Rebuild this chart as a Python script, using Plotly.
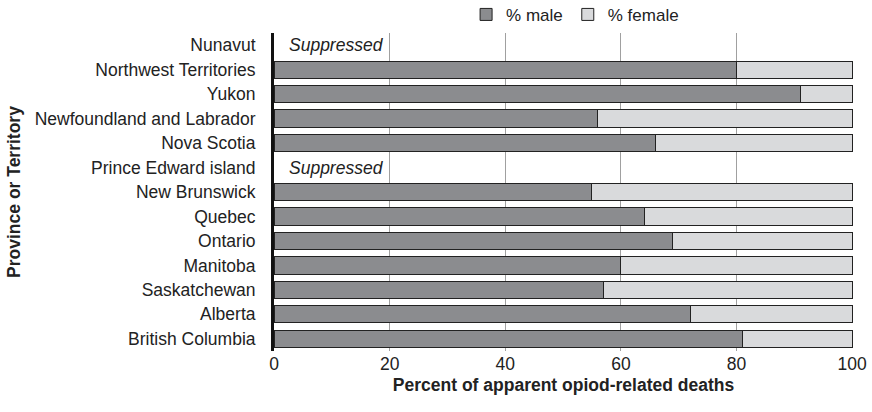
import plotly.graph_objects as go

# provinces/territories, top to bottom as in the chart
regions = ["Nunavut", "Northwest Territories", "Yukon", "Newfoundland and Labrador",
           "Nova Scotia", "Prince Edward island", "New Brunswick", "Quebec", "Ontario",
           "Manitoba", "Saskatchewan", "Alberta", "British Columbia"]
pct_male = [None, 80, 91, 56, 66, None, 55, 64, 69, 60, 57, 72, 81]
pct_female = [None, 20, 9, 44, 34, None, 45, 36, 31, 40, 43, 28, 19]
suppressed = ["Nunavut", "Prince Edward island"]
x_ticks = [0, 20, 40, 60, 80, 100]

fig = go.Figure()
fig.add_trace(go.Bar(y=regions, x=pct_male, name="% male", orientation="h",
                     marker=dict(color="#8b8c8f", line=dict(color="#222222", width=1))))
fig.add_trace(go.Bar(y=regions, x=pct_female, name="% female", orientation="h",
                     marker=dict(color="#d9dadc", line=dict(color="#222222", width=1))))

# suppressed labels
for r in suppressed:
    fig.add_annotation(x=2.2, y=r, text="<i>Suppressed</i>", showarrow=False,
                       xanchor="left", font=dict(size=17.5, color="#222222"))

fig.update_layout(
    barmode="stack", bargap=0.29,
    width=872, height=412,
    margin=dict(l=274, r=19, t=33, b=61, autoexpand=False),
    plot_bgcolor="white", paper_bgcolor="white",
    font=dict(family="Liberation Sans, Arial", size=17.5, color="#222222"),
    legend=dict(orientation="h", x=0.52, xanchor="center", y=1.057, yanchor="middle",
                font=dict(size=17), itemwidth=30, traceorder="normal"),
)
# range a hair past 100 so the 100 gridline is drawn too
fig.update_xaxes(range=[0, 100.15], tickvals=x_ticks, showgrid=True, gridcolor="#a0a0a0",
                 gridwidth=1, zeroline=False, showline=False, ticks="", automargin=False,
                 ticklabeloverflow="allow",
                 title=dict(text="<b>Percent of apparent opiod-related deaths</b>",
                            font=dict(size=17.5), standoff=6))
fig.update_yaxes(autorange="reversed", showline=True, linecolor="#111111", linewidth=3,
                 ticks="", ticklabelstandoff=12, automargin=False,
                 title=dict(text="<b>Province or Territory</b>", font=dict(size=17.5), standoff=10))

# drop the default 8px body margin so the figure fills the window
fig.write_html("out.html", config={"displayModeBar": False},
               post_script="document.body.style.margin='0';")
